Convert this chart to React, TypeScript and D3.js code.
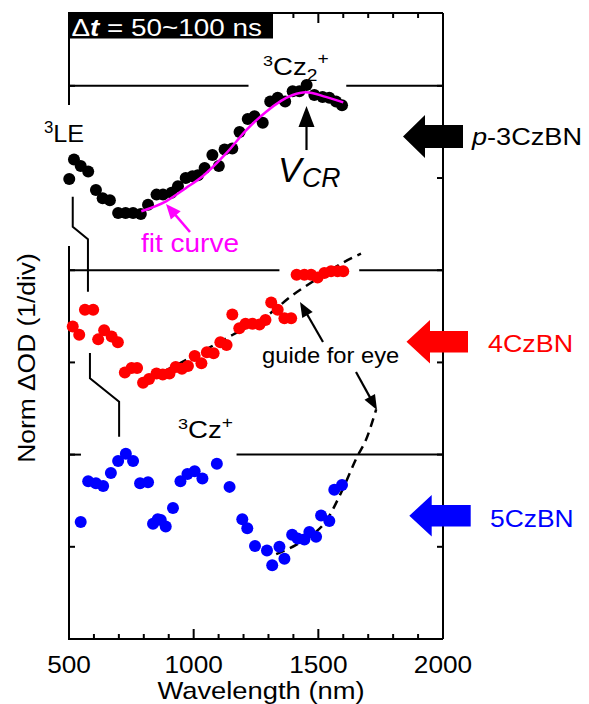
import React from 'react';
import * as d3 from 'd3';

const W = 589, H = 704;
const FONT = '"Liberation Sans", Arial, Helvetica, sans-serif';

// ---- data (wavelength nm, normalized ΔOD relative to each trace's zero line, in divisions) ----
const wlP3 = [501,520,547,577,608,635,664,697,727,757,788,817,851,877,911,937,968,995,1017,1044,1075,1101,1124,1155,1184,1217,1244,1277,1307,1337,1367,1397,1424,1453,1484,1517,1544,1571,1595];
const odP3 = [-1.01,-0.80,-0.87,-0.93,-1.13,-1.22,-1.24,-1.38,-1.38,-1.38,-1.39,-1.29,-1.18,-1.18,-1.16,-1.09,-1.00,-0.98,-0.97,-0.89,-0.75,-0.87,-0.69,-0.68,-0.50,-0.36,-0.33,-0.40,-0.17,-0.13,-0.17,-0.06,-0.06,0.01,-0.10,-0.12,-0.13,-0.17,-0.21];

const wl4 = [515,541,564,597,617,641,671,696,724,751,773,797,821,851,876,903,928,953,977,1004,1031,1053,1080,1107,1132,1155,1183,1208,1235,1264,1288,1311,1337,1364,1391,1413,1444,1471,1497,1524,1551,1577,1600];
const od4 = [-0.61,-0.70,-0.43,-0.43,-0.75,-0.65,-0.72,-0.78,-1.11,-1.06,-1.06,-1.22,-1.18,-1.12,-1.13,-1.12,-1.05,-1.07,-1.04,-0.93,-1.01,-0.89,-0.90,-0.78,-0.81,-0.48,-0.63,-0.58,-0.58,-0.59,-0.54,-0.35,-0.43,-0.52,-0.52,-0.05,-0.05,-0.05,-0.08,-0.03,-0.01,-0.01,-0.01];

const wl5 = [547,577,608,637,668,697,728,757,785,817,837,856,868,888,917,947,975,1004,1035,1093,1144,1195,1215,1246,1294,1315,1344,1364,1395,1417,1444,1464,1491,1511,1544,1564,1595];
const od5 = [-0.73,-0.29,-0.31,-0.34,-0.20,-0.07,0.01,-0.07,-0.31,-0.30,-0.75,-0.70,-0.71,-0.78,-0.58,-0.29,-0.21,-0.18,-0.26,-0.10,-0.35,-0.70,-0.80,-0.99,-1.04,-1.20,-1.00,-1.13,-0.87,-0.91,-0.92,-0.84,-0.89,-0.66,-0.72,-0.38,-0.33];

const wlFit = [790,891,968,1036,1131,1211,1291,1397,1450,1530,1600];
const odFit = [-1.36,-1.25,-1.11,-0.98,-0.73,-0.48,-0.28,-0.10,-0.07,-0.12,-0.18];

const wlGuide4 = [831,1000,1157,1291,1397,1491,1597,1671];
const odGuide4 = [-1.165,-0.93,-0.70,-0.50,-0.27,-0.10,0.08,0.18];
const wlGuide5 = [1331,1411,1471,1531,1597,1656,1691,1732];
const odGuide5 = [-1.08,-0.98,-0.88,-0.72,-0.38,-0.02,0.16,0.49];

const offsets = [6, 4, 2];
const seriesNames = ['p-3CzBN', '4CzBN', '5CzBN'];
const seriesColors = ['#000000', '#ff0000', '#0000ff'];
const xTickLabels = [500, 1000, 1500, 2000];
const xMinorTicks = d3.range(500, 2001, 100);
const yTicks = [1, 2, 3, 4, 5, 6];

// zero-line segments [from, to] in nm (gaps left for labels)
const zeroSegs = [
  [[500, 1220], [1612, 2000]],
  [[500, 1344], [1664, 2000]],
  [[500, 548], [1172, 2000]],
];

const x = d3.scaleLinear().domain([500, 2000]).range([69, 443]);
const y = d3.scaleLinear().domain([0, 6.79]).range([639, 13]);

function ST({ px, py, sx = 1.12, size = 24, anchor = 'start', fill = '#000', rot = 0, weight, fstyle, children }: any) {
  return (
    <g transform={`translate(${px},${py})${rot ? ` rotate(${rot})` : ''} scale(${sx},1)`}>
      <text x={0} y={0} fontSize={size} textAnchor={anchor} fill={fill} fontFamily={FONT}
        fontStyle={fstyle} fontWeight={weight}>{children}</text>
    </g>
  );
}

function Arrow({ x1, y1, x2, y2, len = 14, wid = 11, color = '#000', sw = 2 }: any) {
  const dx = x2 - x1, dy = y2 - y1, L = Math.hypot(dx, dy);
  const ux = dx / L, uy = dy / L;
  const bx = x2 - ux * len, by = y2 - uy * len;
  const px = -uy * wid / 2, py = ux * wid / 2;
  return (
    <g>
      <line x1={x1} y1={y1} x2={bx + ux * 2} y2={by + uy * 2} stroke={color} strokeWidth={sw} />
      <polygon points={`${x2},${y2} ${bx + px},${by + py} ${bx - px},${by - py}`} fill={color} />
    </g>
  );
}

function BlockArrow({ tip, cy, hx, hh, sh, ex, color }: any) {
  const pts = [[tip, cy], [hx, cy - hh], [hx, cy - sh], [ex, cy - sh], [ex, cy + sh], [hx, cy + sh], [hx, cy + hh]];
  return <polygon points={pts.map(p => p.join(',')).join(' ')} fill={color} />;
}

export default function App() {
  const series = [
    { wl: wlP3, od: odP3 },
    { wl: wl4, od: od4 },
    { wl: wl5, od: od5 },
  ];
  const line = d3.line<[number, number]>().x(d => x(d[0])).y(d => y(d[1])).curve(d3.curveMonotoneX);
  const fitPath = line(wlFit.map((w, i) => [w, odFit[i] + offsets[0]]));
  const g4Path = line(wlGuide4.map((w, i) => [w, odGuide4[i] + offsets[1]]));
  const g5Path = line(wlGuide5.map((w, i) => [w, odGuide5[i] + offsets[2]]));
  const plain = d3.line<[number, number]>().x(d => x(d[0])).y(d => y(d[1]));
  const bracket1 = plain([[515, 4.797], [515, 4.472], [576, 4.335], [576, 3.767]]);
  const bracket2 = plain([[584, 3.102], [584, 2.827], [701, 2.574], [701, 2.194]]);

  const x0 = x(500), x1 = x(2000), yB = y(0), yT = y(6.79);

  return (
    <svg width={W} height={H} style={{ position: 'absolute', left: 0, top: 0, background: '#fff' }}>
      {/* zero lines */}
      {zeroSegs.map((segs, i) => segs.map((s, j) => (
        <line key={`z${i}${j}`} x1={x(s[0])} x2={x(s[1])} y1={y(offsets[i])} y2={y(offsets[i])} stroke="#000" strokeWidth={2} />
      )))}
      {/* frame */}
      <line x1={x0} x2={x1} y1={yB} y2={yB} stroke="#000" strokeWidth={2.2} />
      <line x1={x0} x2={x1} y1={yT} y2={yT} stroke="#000" strokeWidth={2} />
      <line x1={x1} x2={x1} y1={yT} y2={yB} stroke="#000" strokeWidth={2} />
      <line x1={x0} x2={x0} y1={yT} y2={105} stroke="#000" strokeWidth={2} />
      <line x1={x0} x2={x0} y1={246} y2={yB + 1} stroke="#000" strokeWidth={2} />
      {xMinorTicks.map(t => {
        const len = t % 500 === 0 ? 10 : 5;
        return (
          <g key={`xt${t}`}>
            <line x1={x(t)} x2={x(t)} y1={yB} y2={yB - len} stroke="#000" strokeWidth={2} />
            <line x1={x(t)} x2={x(t)} y1={yT} y2={yT + len} stroke="#000" strokeWidth={2} />
          </g>
        );
      })}
      {yTicks.map(t => (
        <g key={`yt${t}`}>
          <line x1={x0} x2={x0 + 6} y1={y(t)} y2={y(t)} stroke="#000" strokeWidth={2} />
          <line x1={x1} x2={x1 - 6} y1={y(t)} y2={y(t)} stroke="#000" strokeWidth={2} />
        </g>
      ))}
      {xTickLabels.map(t => (
        <ST key={`xl${t}`} px={x(t)} py={673} size={23} sx={1.14} anchor="middle">{t}</ST>
      ))}
      <ST px={261} py={699} size={24} sx={1.14} anchor="middle">Wavelength (nm)</ST>
      <ST px={35} py={358} size={24} sx={1.1} anchor="middle" rot={-90}>Norm ΔOD (1/div)</ST>

      {/* Δt box */}
      <rect x={68} y={12} width={205} height={26.5} fill="#000" />
      <ST px={71.5} py={35.5} size={24} sx={1.16} fill="#fff">
        Δ<tspan fontWeight="bold" fontStyle="italic">t</tspan> = 50~100 ns
      </ST>

      {/* guides */}
      <path d={g4Path || ''} fill="none" stroke="#000" strokeWidth={2.5} strokeDasharray="9,6" />
      <path d={g5Path || ''} fill="none" stroke="#000" strokeWidth={2.5} strokeDasharray="9,6" />

      {/* brackets */}
      <path d={bracket1 || ''} fill="none" stroke="#000" strokeWidth={2} />
      <path d={bracket2 || ''} fill="none" stroke="#000" strokeWidth={2} />

      {/* points */}
      {series.map((s, i) => s.wl.map((w, k) => (
        <circle key={`p${i}-${k}`} cx={x(w)} cy={y(s.od[k] + offsets[i])} r={6} fill={seriesColors[i]} />
      )))}

      {/* fit curve */}
      <path d={fitPath || ''} fill="none" stroke="#ff00ff" strokeWidth={2.5} />

      {/* annotations */}
      <ST px={44} py={142} size={24} sx={1.05}>
        <tspan fontSize={16} dy={-9}>3</tspan><tspan dy={9}>LE</tspan>
      </ST>
      <ST px={263} py={75} size={23} sx={1.2}>
        <tspan fontSize={15} dy={-9}>3</tspan><tspan dy={9}>Cz</tspan><tspan fontSize={16} dy={6}>2</tspan><tspan fontSize={16} dy={-17}>+</tspan>
      </ST>
      <ST px={178} py={438} size={23} sx={1.2}>
        <tspan fontSize={15} dy={-9}>3</tspan><tspan dy={9}>Cz</tspan><tspan fontSize={16} dy={-10}>+</tspan>
      </ST>
      <Arrow x1={306.5} y1={150} x2={306.5} y2={106} len={21} wid={16} sw={2.2} />
      <ST px={278} py={182} size={36} sx={0.98} fstyle="italic">V</ST>
      <ST px={302} py={187} size={28} sx={0.95} fstyle="italic">CR</ST>

      <Arrow x1={190} y1={232} x2={166} y2={204} len={15} wid={13} color="#ff00ff" sw={2.5} />
      <ST px={141} py={252} size={25} sx={1.12} fill="#ff00ff">fit curve</ST>

      <ST px={262} py={363} size={22} sx={1.08}>guide for eye</ST>
      <Arrow x1={323} y1={342} x2={300} y2={302} len={15} wid={12} sw={2.2} />
      <Arrow x1={356} y1={372} x2={377} y2={410} len={15} wid={12} sw={2.2} />

      {/* legend arrows */}
      <BlockArrow tip={403} cy={136.5} hx={425} hh={21.5} sh={11.5} ex={463} color={seriesColors[0]} />
      <BlockArrow tip={406.5} cy={341.7} hx={430} hh={21.7} sh={10.8} ex={468} color={seriesColors[1]} />
      <BlockArrow tip={409.3} cy={515.8} hx={431.7} hh={20.8} sh={10.8} ex={470.7} color={seriesColors[2]} />
      <ST px={472} py={145} size={24} sx={1.13} fill={seriesColors[0]}>
        <tspan fontStyle="italic">p</tspan>-3CzBN
      </ST>
      <ST px={488} py={352} size={24} sx={1.12} fill={seriesColors[1]}>{seriesNames[1]}</ST>
      <ST px={490} py={527} size={24} sx={1.1} fill={seriesColors[2]}>{seriesNames[2]}</ST>
    </svg>
  );
}
